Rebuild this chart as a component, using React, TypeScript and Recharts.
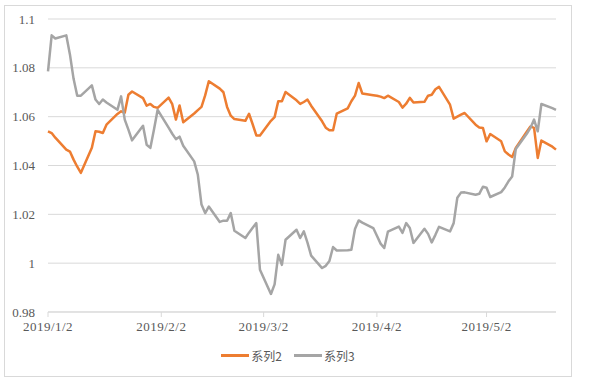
import React from 'react';
import { LineChart, Line, XAxis, YAxis, CartesianGrid, Legend } from 'recharts';

// trading days (weekdays)
const dates = [
  '2019/1/2', '2019/1/3', '2019/1/4', '2019/1/7', '2019/1/8', '2019/1/9', '2019/1/10', '2019/1/11',
  '2019/1/14', '2019/1/15', '2019/1/16', '2019/1/17', '2019/1/18', '2019/1/21', '2019/1/22', '2019/1/23',
  '2019/1/24', '2019/1/25', '2019/1/28', '2019/1/29', '2019/1/30', '2019/1/31',
  '2019/2/1', '2019/2/4', '2019/2/5', '2019/2/6', '2019/2/7', '2019/2/8', '2019/2/11', '2019/2/12',
  '2019/2/13', '2019/2/14', '2019/2/15', '2019/2/18', '2019/2/19', '2019/2/20', '2019/2/21', '2019/2/22',
  '2019/2/25', '2019/2/26', '2019/2/27', '2019/2/28',
  '2019/3/1', '2019/3/4', '2019/3/5', '2019/3/6', '2019/3/7', '2019/3/8', '2019/3/11', '2019/3/12',
  '2019/3/13', '2019/3/14', '2019/3/15', '2019/3/18', '2019/3/19', '2019/3/20', '2019/3/21', '2019/3/22',
  '2019/3/25', '2019/3/26', '2019/3/27', '2019/3/28', '2019/3/29',
  '2019/4/1', '2019/4/2', '2019/4/3', '2019/4/4', '2019/4/5', '2019/4/8', '2019/4/9', '2019/4/10',
  '2019/4/11', '2019/4/12', '2019/4/15', '2019/4/16', '2019/4/17', '2019/4/18', '2019/4/19', '2019/4/22',
  '2019/4/23', '2019/4/24', '2019/4/25', '2019/4/26', '2019/4/29', '2019/4/30',
  '2019/5/1', '2019/5/2', '2019/5/3', '2019/5/6', '2019/5/7', '2019/5/8', '2019/5/9', '2019/5/10',
  '2019/5/13', '2019/5/14', '2019/5/15', '2019/5/16', '2019/5/17', '2019/5/20', '2019/5/21',
];

const series2 = [
  1.054, 1.0533, 1.0514, 1.0465, 1.0457, 1.0424, 1.0395, 1.037, 1.0473, 1.054, 1.0538, 1.0533, 1.0567,
  1.0611, 1.0622, 1.0616, 1.069, 1.0703, 1.0676, 1.0645, 1.0652, 1.064,
  1.0636, 1.0678, 1.0651, 1.0588, 1.0646, 1.0577, 1.0613, 1.0627, 1.064, 1.0687, 1.0745, 1.0715, 1.07,
  1.064, 1.0604, 1.059, 1.0583, 1.0612, 1.0569, 1.0523,
  1.0523, 1.0583, 1.0598, 1.0663, 1.0663, 1.0701, 1.0667, 1.0652, 1.066, 1.067, 1.0645, 1.0581, 1.0555,
  1.0544, 1.0544, 1.0612, 1.0634, 1.0663, 1.0686, 1.0738, 1.0695,
  1.0688, 1.0686, 1.0682, 1.0676, 1.0686, 1.066, 1.0637, 1.0653, 1.0677, 1.0658, 1.0661, 1.0686, 1.069,
  1.0712, 1.0722, 1.0649, 1.0592, 1.06, 1.0608, 1.0615, 1.0567, 1.0556,
  1.0554, 1.0499, 1.0529, 1.0499, 1.0458, 1.0445, 1.0435, 1.0472, 1.0538, 1.056, 1.0554, 1.0431, 1.0502,
  1.0477, 1.0465,
];

const series3 = [
  1.0785, 1.0933, 1.092, 1.0933, 1.0855, 1.0755, 1.0686, 1.0686, 1.0728, 1.067, 1.0652, 1.067, 1.0658,
  1.0628, 1.0683, 1.0588, 1.0547, 1.0503, 1.0563, 1.0485, 1.0472, 1.0547,
  1.0628, 1.0555, 1.053, 1.0508, 1.0518, 1.0481, 1.0417, 1.0362, 1.024, 1.0205, 1.0232, 1.0169, 1.0174,
  1.0174, 1.0205, 1.0133, 1.0103, 1.0125, 1.0145, 1.0164,
  0.9973, 0.9874, 0.9913, 1.0034, 0.9993, 1.0096, 1.0137, 1.0103, 1.013, 1.0084, 1.0031, 0.998, 0.9989,
  1.0009, 1.0066, 1.0052, 1.0053, 1.0055, 1.014, 1.0175, 1.0166,
  1.0144, 1.0112, 1.008, 1.0062, 1.0129, 1.015, 1.0124, 1.0164, 1.0144, 1.0083, 1.0141, 1.012, 1.0085,
  1.0116, 1.0149, 1.013, 1.0164, 1.0268, 1.0289, 1.029, 1.028, 1.0284,
  1.0313, 1.0309, 1.0271, 1.0291, 1.031, 1.0335, 1.0355, 1.0468, 1.053, 1.0554, 1.0588, 1.054, 1.0652,
  1.0635, 1.0628,
];

const xTickLabels = ['2019/1/2', '2019/2/2', '2019/3/2', '2019/4/2', '2019/5/2'];
const yTicks = [0.98, 1, 1.02, 1.04, 1.06, 1.08, 1.1];

const DAY = 86400000;
const toDay = (s: string) => {
  const [y, m, d] = s.split('/').map(Number);
  return (Date.UTC(y, m - 1, d) - Date.UTC(2019, 0, 2)) / DAY;
};

const data = dates.map((d, i) => ({ day: toDay(d), s2: series2[i], s3: series3[i] }));
const xTicks = xTickLabels.map(toDay);
const lastDay = toDay(dates[dates.length - 1]);

const axisFont = { fontFamily: '"Liberation Serif", serif', fontSize: 13, fill: '#595959' };

const renderLegend = (props: any) => {
  const { payload = [] } = props;
  return (
    <div style={{ display: 'flex', justifyContent: 'center', alignItems: 'center', height: 20 }}>
      {payload.map((p: any) => (
        <div key={p.value} style={{ display: 'flex', alignItems: 'center', margin: '0 6px' }}>
          <span style={{ display: 'inline-block', width: 28, height: 3, background: p.color, marginRight: 2 }} />
          <span style={{ fontFamily: '"Noto Sans CJK SC", sans-serif', fontSize: 12, color: '#595959' }}>
            {p.value}
          </span>
        </div>
      ))}
    </div>
  );
};

export default function App() {
  return (
    <div
      style={{
        position: 'absolute',
        left: 4,
        top: 5,
        width: 566,
        height: 370,
        border: '1px solid #D9D9D9',
        background: '#fff',
      }}
    >
      <LineChart width={566} height={370} data={data} margin={{ top: 13, right: 15, bottom: 34, left: 0 }}>
        <CartesianGrid vertical={false} stroke="#D9D9D9" />
        <XAxis
          dataKey="day"
          type="number"
          domain={[0, lastDay]}
          ticks={xTicks}
          tickFormatter={(v: number) => xTickLabels[xTicks.indexOf(v)] ?? ''}
          height={30}
          stroke="#D9D9D9"
          tickSize={5}
          tickMargin={5}
          tick={{ ...axisFont, letterSpacing: 0.5 }}
          interval={0}
        />
        <YAxis
          type="number"
          domain={[0.98, 1.1]}
          ticks={yTicks}
          tickFormatter={(v: number) => String(Number(v.toFixed(2)))}
          width={43}
          axisLine={false}
          tickLine={false}
          tickSize={0}
          tickMargin={13}
          tick={axisFont}
          interval={0}
        />
        <Legend
          layout="horizontal"
          verticalAlign="middle"
          align="center"
          content={renderLegend}
          wrapperStyle={{ top: 339, left: 0, width: 566, height: 20 }}
        />
        <Line
          type="linear"
          dataKey="s2"
          name="系列2"
          stroke="#ED7D31"
          strokeWidth={2.5}
          dot={false}
          strokeLinejoin="round"
          isAnimationActive={false}
        />
        <Line
          type="linear"
          dataKey="s3"
          name="系列3"
          stroke="#A5A5A5"
          strokeWidth={2.5}
          dot={false}
          strokeLinejoin="round"
          isAnimationActive={false}
        />
      </LineChart>
    </div>
  );
}
